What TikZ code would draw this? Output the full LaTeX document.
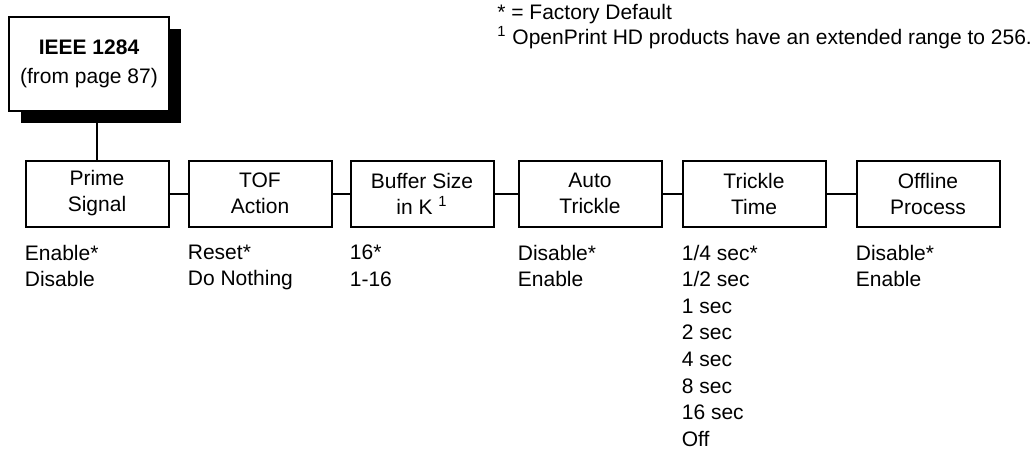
\documentclass[tikz,border=0pt]{standalone}
\usepackage{fontspec}
\setmainfont{Liberation Sans}
\usetikzlibrary{positioning,shadows}
\tikzset{
  entrybox/.style={draw, line width=1.2pt, fill=white, minimum width=80pt, minimum height=47pt, align=center,
    font=\fontsize{10.5}{14.5}\selectfont,
    drop shadow={shadow xshift=6pt, shadow yshift=-6pt, fill=black, opacity=1}},
  menubox/.style={draw, line width=1pt, minimum width=71.5pt, minimum height=33pt, inner sep=1pt, align=center, font=\fontsize{10.5}{13}\selectfont},
  choices/.style={inner sep=0pt, align=left, font=\fontsize{10.5}{13.3}\selectfont},
  note/.style={inner sep=0pt, align=left, font=\fontsize{10.5}{11}\selectfont},
  link/.style={line width=1pt}
}
\begin{document}
\begin{tikzpicture}[x=0.5pt, y=-0.5pt]
\useasboundingbox (0,0) rectangle (1035,451);
\node[entrybox] (ieee) at (89,64) {\textbf{IEEE 1284}\\(from page 87)};
\node[menubox] (prime) at (97,193.5) {Prime\\Signal};
\node[menubox, right=9pt of prime] (tof) {TOF\\Action};
\node[menubox, right=8.5pt of tof] (buffer) {Buffer Size\\in K \textsuperscript{1}};
\node[menubox, right=11.5pt of buffer] (auto) {Auto\\Trickle};
\node[menubox, right=9.5pt of auto] (trickle) {Trickle\\Time};
\node[menubox, right=14.5pt of trickle] (offline) {Offline\\Process};
\draw[link] (prime.north) -- (prime.north |- ieee.south);
\draw[link] (prime) -- (tof);
\draw[link] (tof) -- (buffer);
\draw[link] (buffer) -- (auto);
\draw[link] (auto) -- (trickle);
\draw[link] (trickle) -- (offline);
% settings under each box
\node[choices, below=8.5pt of prime.south west, anchor=north west] (primeopts) {Enable*\\Disable};
\node[choices, below=8.5pt of tof.south west, anchor=north west] (tofopts) {Reset*\\Do Nothing};
\node[choices, below=8.5pt of buffer.south west, anchor=north west] (bufferopts) {16*\\1-16};
\node[choices, below=8.5pt of auto.south west, anchor=north west] (autoopts) {Disable*\\Enable};
\node[choices, below=8.5pt of trickle.south west, anchor=north west] (trickleopts) {1/4 sec*\\1/2 sec\\1 sec\\2 sec\\4 sec\\8 sec\\16 sec\\Off};
\node[choices, below=8.5pt of offline.south west, anchor=north west] (offlineopts) {Disable*\\Enable};
\node[note, anchor=north west] (notes) at (497,4) {* = Factory Default\\\textsuperscript{1} OpenPrint HD products have an extended range to 256.};
\end{tikzpicture}
\end{document}
